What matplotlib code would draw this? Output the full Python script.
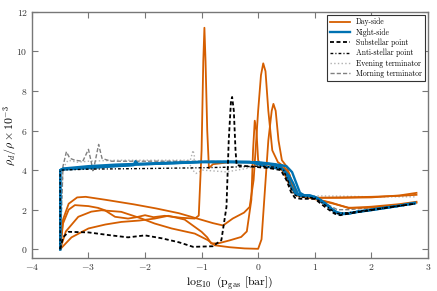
import matplotlib
matplotlib.use('Agg')
import matplotlib.pyplot as plt

plt.rcParams['font.family'] = 'serif'
plt.rcParams['font.serif'] = ['cmr10', 'DejaVu Serif']
plt.rcParams['mathtext.fontset'] = 'cm'
plt.rcParams['axes.formatter.use_mathtext'] = True
plt.rcParams['axes.unicode_minus'] = True

# day-side profiles
day_x = [
    [-3.5, -3.45, -3.35, -3.2, -3.05, -2.7, -2.2, -1.8, -1.4, -1.1, -0.8, -0.62, -0.45, -0.25, -0.15,
     -0.08, 0.0, 0.05, 0.09, 0.13, 0.18, 0.25, 0.35, 0.45, 0.55, 0.62, 0.7, 0.85, 1.0, 1.5, 2.0, 2.5, 2.8],
    [-3.5, -3.45, -3.35, -3.24, -3.0, -2.83, -2.71, -2.53, -2.3, -2.15, -2.0, -1.85, -1.65, -1.36, -1.12,
     -1.05, -1.0, -0.97, -0.95, -0.93, -0.9, -0.87, -0.8, -0.5, -0.2, 0.1, 0.3, 0.45, 0.55, 0.65, 0.75,
     1.0, 1.3, 1.6, 2.0, 2.5, 2.8],
    [-3.5, -3.4, -3.18, -2.95, -2.77, -2.42, -2.06, -1.83, -1.53, -1.12, -0.89, -0.77, -0.5, -0.24, 0.0,
     0.06, 0.12, 0.18, 0.24, 0.27, 0.31, 0.36, 0.42, 0.5, 0.6, 0.7, 0.9, 1.2, 1.6, 2.0, 2.5, 2.8],
    [-3.5, -3.3, -3.0, -2.7, -2.42, -2.1, -1.83, -1.59, -1.3, -1.0, -0.9, -0.83, -0.7, -0.5, -0.3, -0.2,
     -0.12, -0.09, -0.06, -0.03, 0.0, 0.05, 0.1, 0.2, 0.35, 0.45, 0.55, 0.65, 0.8, 1.0, 1.5, 2.0, 2.5, 2.8],
]
day_y = [
    [0, 1.5, 2.3, 2.62, 2.65, 2.5, 2.27, 2.06, 1.82, 1.57, 1.32, 1.2, 1.55, 1.85, 2.14,
     3.5, 7.0, 8.8, 9.4, 9.0, 7.0, 5.0, 4.4, 4.2, 3.8, 3.0, 2.7, 2.62, 2.6, 2.6, 2.62, 2.72, 2.85],
    [0, 1.3, 2.0, 2.23, 2.18, 2.09, 1.97, 1.64, 1.55, 1.62, 1.72, 1.62, 1.69, 1.59, 1.55,
     1.7, 5.0, 9.5, 11.2, 9.5, 6.0, 4.1, 4.3, 4.4, 4.4, 4.35, 4.2, 4.1, 3.6, 2.9, 2.7,
     2.55, 2.35, 2.08, 2.15, 2.28, 2.4],
    [0, 0.9, 1.64, 1.9, 1.97, 1.89, 1.55, 1.3, 1.05, 0.79, 0.46, 0.2, 0.1, 0.04, 0.02,
     0.5, 3.0, 5.5, 7.0, 7.35, 7.0, 5.5, 4.5, 4.2, 3.4, 2.75, 2.6, 2.4, 2.1, 2.1, 2.25, 2.35],
    [0, 0.6, 1.05, 1.25, 1.38, 1.45, 1.55, 1.69, 1.5, 0.88, 0.6, 0.29, 0.3, 0.45, 0.62, 0.9,
     2.5, 5.0, 6.5, 6.0, 4.5, 4.2, 4.3, 4.3, 4.2, 3.9, 3.3, 2.8, 2.65, 2.6, 2.62, 2.65, 2.7, 2.75],
]

# night-side profiles
night_x = [
    [-3.5, -3.5, -3.45, -3.0, -2.5, -2.2, -2.17, -2.12, -2.0, -1.5, -1.0, -0.5, -0.15, 0.15, 0.44, 0.55,
     0.62, 0.7, 0.8, 0.91, 1.03, 1.2, 1.32, 1.44, 1.6, 1.74, 2.0, 2.2, 2.5, 2.77],
    [-3.5, -3.5, -3.45, -3.0, -2.5, -2.0, -1.5, -1.0, -0.5, -0.1, 0.2, 0.4, 0.5, 0.58, 0.66, 0.75,
     0.9, 1.05, 1.2, 1.35, 1.48, 1.6, 1.8, 2.1, 2.5, 2.77],
    [-3.5, -3.5, -3.45, -3.0, -2.5, -2.0, -1.5, -1.0, -0.5, 0.0, 0.3, 0.5, 0.6, 0.68, 0.74, 0.82,
     0.95, 1.1, 1.25, 1.4, 1.52, 1.7, 2.0, 2.4, 2.77],
]
night_y = [
    [0, 4.0, 4.03, 4.1, 4.2, 4.25, 4.45, 4.3, 4.3, 4.35, 4.42, 4.43, 4.42, 4.17, 4.05, 3.7,
     3.34, 2.8, 2.73, 2.73, 2.62, 2.3, 1.97, 1.77, 1.8, 1.89, 1.98, 2.07, 2.2, 2.35],
    [0, 4.0, 4.05, 4.15, 4.22, 4.3, 4.35, 4.4, 4.4, 4.38, 4.3, 4.15, 3.8, 3.2, 2.8, 2.7,
     2.68, 2.55, 2.25, 1.92, 1.78, 1.8, 1.92, 2.05, 2.2, 2.32],
    [0, 4.0, 4.08, 4.2, 4.28, 4.33, 4.38, 4.42, 4.42, 4.4, 4.3, 4.2, 3.9, 3.3, 2.85, 2.72,
     2.68, 2.5, 2.15, 1.85, 1.8, 1.86, 1.98, 2.15, 2.33],
]

sub_x = [-3.5, -3.45, -3.35, -3.0, -2.6, -2.3, -2.0, -1.7, -1.4, -1.15, -0.8, -0.65, -0.56, -0.52, -0.48,
         -0.46, -0.43, -0.4, -0.38, -0.2, 0.0, 0.2, 0.4, 0.5, 0.58, 0.65, 0.75, 1.0, 1.2, 1.35, 1.45, 1.6,
         2.0, 2.4, 2.77]
sub_y = [0, 0.6, 0.88, 0.85, 0.7, 0.6, 0.7, 0.55, 0.35, 0.12, 0.15, 0.46, 2.14, 5.5, 7.5,
         7.7, 7.0, 5.0, 4.25, 4.2, 4.15, 4.1, 4.0, 3.5, 2.9, 2.6, 2.55, 2.55, 2.1, 1.8, 1.72, 1.8,
         1.98, 2.15, 2.3]

anti_x = [-3.5, -3.5, -3.0, -2.0, -1.0, -0.5, 0.0, 0.3, 0.45, 0.55, 0.62, 0.7, 1.0, 1.2, 1.38, 1.6,
          2.0, 2.5, 2.77]
anti_y = [0, 4.0, 4.05, 4.08, 4.12, 4.15, 4.2, 4.15, 4.0, 3.3, 2.8, 2.65, 2.6, 2.2, 1.8, 1.85,
          2.0, 2.2, 2.3]

eve_x = [-3.5, -3.45, -3.36, -3.2, -3.0, -2.5, -2.0, -1.5, -1.2, -1.15, -1.12, -1.21, -1.1, -0.98,
         -0.56, -0.21, 0.15, 0.44, 0.55, 0.68, 0.8, 1.0, 1.5, 2.0, 2.5, 2.77]
eve_y = [0, 4.1, 4.5, 4.4, 4.45, 4.5, 4.5, 4.5, 4.5, 5.0, 4.6, 4.17, 3.83, 4.0,
         3.91, 4.08, 4.34, 4.25, 3.7, 2.99, 2.75, 2.7, 2.68, 2.65, 2.65, 2.65]

morn_x = [-3.5, -3.45, -3.39, -3.33, -3.24, -3.1, -3.0, -2.95, -2.92, -2.87, -2.82, -2.76, -2.6, -2.0,
          -1.0, 0.0, 0.3, 0.45, 0.55, 0.65, 0.75, 1.0, 1.2, 1.4, 1.6, 2.0, 2.5, 2.77]
morn_y = [0, 4.2, 4.93, 4.6, 4.5, 4.45, 5.05, 4.4, 3.91, 4.6, 5.3, 4.59, 4.45, 4.45,
          4.45, 4.4, 4.3, 4.15, 3.6, 2.85, 2.65, 2.58, 2.3, 2.0, 2.0, 2.1, 2.22, 2.35]

orange = '#D55E00'
blue = '#0072B2'

fig = plt.figure(figsize=(4.37, 2.91), dpi=100)
ax = fig.add_axes([0.073, 0.113, 0.906, 0.846])

for i, (xs, ys) in enumerate(zip(day_x, day_y)):
    ax.plot(xs, ys, color=orange, lw=1.3, label='Day-side' if i == 0 else None, zorder=3)
for i, (xs, ys) in enumerate(zip(night_x, night_y)):
    ax.plot(xs, ys, color=blue, lw=1.7, label='Night-side' if i == 0 else None, zorder=4)
ax.plot(sub_x, sub_y, color='black', lw=1.3, ls=(0, (2.2, 1.4)), label='Substellar point', zorder=5)
ax.plot(anti_x, anti_y, color='black', lw=1.0, ls=(0, (2, 1.5, 0.8, 1.5)), label='Anti-stellar point', zorder=5)
ax.plot(eve_x, eve_y, color='#b0b0b0', lw=1.0, ls=':', label='Evening terminator', zorder=2)
ax.plot(morn_x, morn_y, color='#808080', lw=1.0, ls=(0, (3, 1.5)), label='Morning terminator', zorder=2)

ax.set_xlim(-4, 3)
ax.set_ylim(-0.45, 12)
ax.set_xticks(range(-4, 4))
ax.set_yticks(range(0, 13, 2))
ax.tick_params(direction='in', top=True, right=True, labelsize=7, length=4,
               color='#777777', labelcolor='#333333', width=0.8, pad=3)
for s in ax.spines.values():
    s.set_color('#777777')
    s.set_linewidth(1.0)

ax.set_xlabel(r'$\log_{10}$ (p$_{\rm gas}$ [bar])', fontsize=8.5, labelpad=2)
ax.set_ylabel(r'$\rho_d/\rho \times 10^{-3}$', fontsize=8.5)
ax.yaxis.set_label_coords(-0.032, 0.5)

leg = ax.legend(loc='upper right', fontsize=5.5, frameon=True, fancybox=False,
                edgecolor='#333333', framealpha=1, handlelength=2.6, borderpad=0.4,
                labelspacing=0.25, borderaxespad=0.4)
leg.get_frame().set_linewidth(0.8)

fig.savefig('out.png', dpi=100)
